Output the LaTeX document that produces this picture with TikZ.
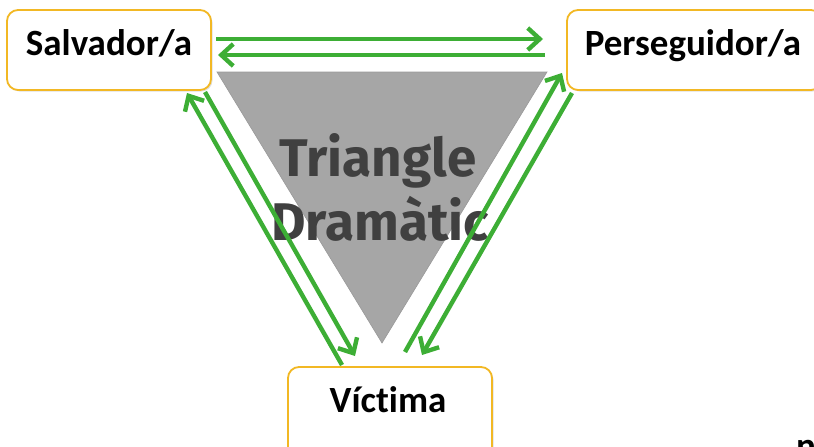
\documentclass[tikz,border=0pt]{standalone}
\usepackage{fontspec}
\setmainfont{Carlito}[Ligatures={NoCommon}]
\newfontfamily\dinfont{Fira Sans}
\usetikzlibrary{arrows.meta,shadows}
\definecolor{boxborder}{HTML}{F2B824}
\definecolor{arrgreen}{HTML}{3DAE35}
\definecolor{trigray}{HTML}{A6A6A6}
\definecolor{tritext}{HTML}{404040}
\tikzset{
  rolebox/.style={draw=boxborder, line width=1.8pt, rounded corners=11pt, fill=white,
    drop shadow={shadow xshift=1.5pt, shadow yshift=-1.5pt, opacity=0.25}},
  roletext/.style={font=\fontsize{37}{40}\selectfont\bfseries, text=black, inner sep=0pt},
  flow/.style={draw=arrgreen, line width=4.4pt,
    -{Straight Barb[length=12pt,width=22pt,line width=4.4pt]}},
  tritxt/.style={font=\dinfont\fontsize{53}{56}\selectfont\bfseries, text=tritext, inner sep=0pt}
}
\begin{document}
\begin{tikzpicture}[x=1pt,y=-1pt]
\useasboundingbox (0,0) rectangle (814,447);
% triangle
\path[fill=trigray, draw=gray!80, line width=0.6pt] (217,72) -- (547,72) -- (382,343) -- cycle;
\node[tritxt, anchor=base] (t1) at (378,176) {Triangle};
\node[tritxt, anchor=base] (t2) at (380,240) {Dramàtic};
% boxes
\path[rolebox] (7,10) rectangle (211,90);
\path[rolebox] (567,10) rectangle (822,90);
\path[rolebox] (288,367) rectangle (492,460);
\node[roletext, anchor=base] (sal) at (109,55) {Salvador/a};
\node[roletext, anchor=base] (per) at (693,55) {Perseguidor/a};
\node[roletext, anchor=base] (vic) at (388,412) {Víctima};
\node[font=\fontsize{37}{40}\selectfont\bfseries, anchor=base, inner sep=0pt] (frag) at (806,458) {n};
% connector end points
\coordinate (sA) at (216,39);  \coordinate (pA) at (543,39);
\coordinate (pB) at (545,55);  \coordinate (sB) at (218,55);
\coordinate (vC) at (342,365); \coordinate (sC) at (187,93);
\coordinate (sD) at (205,92);  \coordinate (vD) at (355,356);
\coordinate (vE) at (405,352); \coordinate (pE) at (562,73);
\coordinate (pF) at (572,93);  \coordinate (vF) at (422,355);
\draw[flow] (sA) -- (pA);
\draw[flow] (pB) -- (sB);
\draw[flow] (vC) -- (sC);
\draw[flow] (sD) -- (vD);
\draw[flow] (vE) -- (pE);
\draw[flow] (pF) -- (vF);
\end{tikzpicture}
\end{document}
